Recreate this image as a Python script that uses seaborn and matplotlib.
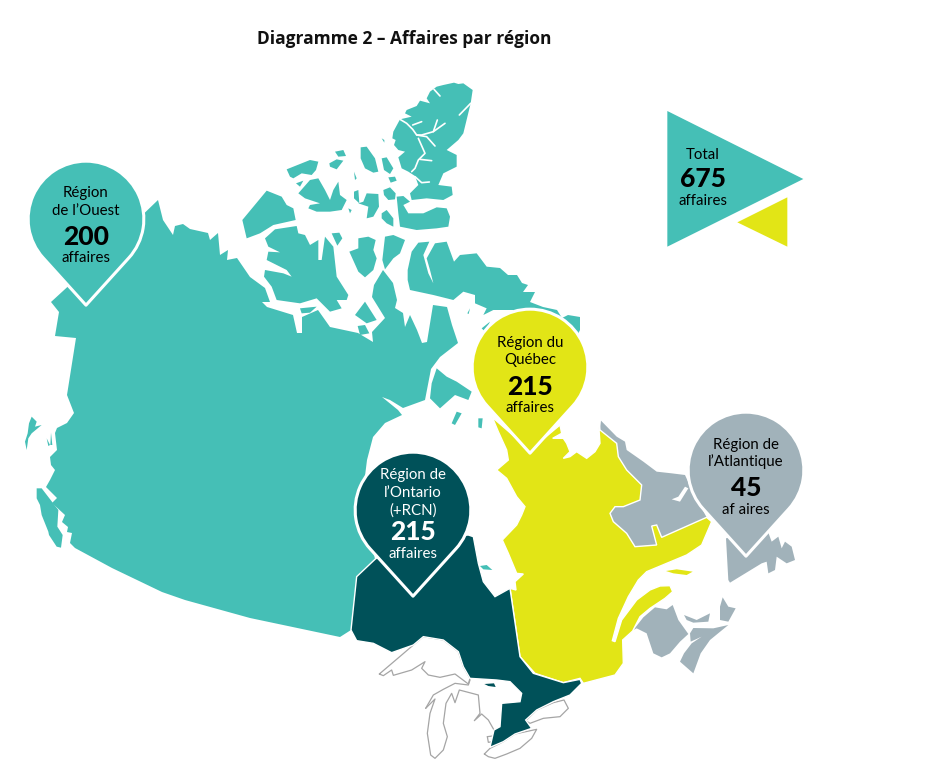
import numpy as np
import pandas as pd
import matplotlib
matplotlib.use("Agg")
import matplotlib.pyplot as plt
from matplotlib.path import Path
import seaborn as sns

# --- values ----------------------------------------------------------
regions = ["Ouest", "Québec", "Ontario", "Atlantique"]
counts = [200, 215, 215, 45]
total = 675
pin_labels = [["Région", "de l’Ouest"], ["Région du", "Québec"],
              ["Région de", "l’Ontario", "(+RCN)"], ["Région de", "l’Atlantique"]]
unit_labels = ["affaires", "affaires", "affaires", "af aires"]
title = "Diagramme 2 – Affaires par région"

TEAL, DARK, YELLOW, GREY = "#45BFB6", "#005159", "#E2E516", "#A1B2BA"
palette = dict(zip(regions, [TEAL, YELLOW, DARK, GREY]))
text_colors = ["black", "black", "white", "black"]

# pin anchors, pixels of the 938x781 canvas
pin_x = [86, 530, 413, 746]
pin_y = [219, 367, 510, 470]

# --- outlines (traced in pixels, some from 3x crops) -------------------
def z(pts, x0, y0):
    return [(x0 + a / 3, y0 + b / 3) for a, b in pts]

mainland_west = [(158, 200), (163, 220), (173, 235), (175, 226), (183, 224), (190, 229), (208, 233), (210, 240), (218, 233),
                 (220, 255), (228, 250), (227, 260), (237, 258), (250, 277), (265, 288), (270, 302), (262, 302),
                 (267, 307), (293, 315), (297, 333), (302, 333), (302, 317), (318, 310), (330, 327), (358, 333),
                 (373, 342), (372, 332), (385, 318), (372, 297), (374, 285), (383, 270), (393, 283), (397, 300),
                 (395, 308), (403, 313), (405, 327), (410, 315), (417, 330), (422, 343), (427, 342), (433, 305),
                 (447, 307), (452, 325), (458, 343), (440, 357),
                 (431, 369), (425, 400), (403, 408), (390, 400), (382, 397), (398, 410), (402, 415), (385, 423),
                 (373, 437), (367, 460), (362, 500), (375, 559), (357, 577), (351, 630), (340, 637), (250, 618),
                 (185, 600), (162, 592), (112, 568), (75, 548), (70, 543), (72, 533), (67, 532), (68, 527),
                 (62, 522), (65, 515), (52, 503), (57, 498), (46, 487), (50, 480), (55, 470), (51, 465), (50, 457),
                 (57, 450), (55, 433), (57, 428), (67, 423), (74, 413), (67, 395), (73, 357), (76, 338), (55, 336),
                 (59, 312), (51, 302), (75, 280)]

ontario = z([(105, 88), (180, 30), (385, 15), (400, 20), (415, 100), (430, 155), (465, 200), (510, 175),
             (540, 380), (580, 430), (670, 458), (720, 448), (725, 460), (690, 495), (640, 515), (590, 540),
             (557, 570), (575, 595), (525, 612), (490, 635), (450, 652), (462, 600), (480, 590), (485, 520),
             (540, 515), (545, 490), (510, 455), (470, 450), (390, 445), (370, 410), (355, 365), (310, 330),
             (250, 320), (220, 345), (155, 368), (100, 340), (50, 332), (33, 300), (50, 140)], 340, 530)
manitoulin = z([(433, 462), (462, 460), (467, 471), (445, 468)], 340, 530)

quebec = z([(37, 52), (150, 150), (240, 75), (245, 100), (218, 115), (250, 115), (260, 130), (270, 155), (250, 175),
            (270, 170), (290, 155), (320, 175), (345, 155), (360, 130), (355, 60), (360, 90), (410, 130), (415, 170),
            (440, 210), (485, 255), (480, 300), (430, 320), (405, 320), (390, 340), (400, 365), (440, 400), (465, 440),
            (530, 435), (515, 378), (530, 375), (545, 412), (680, 352), (695, 365), (665, 435), (620, 465), (500, 515),
            (475, 540), (445, 590), (415, 655), (397, 722), (405, 725), (425, 660), (440, 640), (470, 600), (510, 570),
            (540, 558), (570, 557), (578, 575), (555, 595), (510, 625), (480, 650), (458, 693), (428, 720), (430, 790),
            (405, 825), (310, 850), (300, 835), (250, 848), (165, 820), (120, 770), (90, 565), (108, 570), (105, 545),
            (130, 522), (110, 520), (85, 460), (67, 420), (110, 375), (125, 345), (135, 320), (110, 290), (80, 235),
            (50, 210), (85, 180), (80, 150), (55, 95)], 480, 400)
anticosti = z([(558, 513), (590, 508), (638, 515), (620, 525), (580, 520)], 480, 400)

labrador = z([(363, 62), (410, 110), (435, 125), (440, 150), (490, 185), (530, 215), (575, 220), (615, 225),
              (640, 280), (680, 352), (545, 412), (530, 375), (515, 378), (530, 435), (465, 440), (440, 400),
              (400, 365), (390, 340), (405, 320), (430, 320), (480, 300), (485, 255), (440, 210), (415, 170),
              (410, 130), (360, 90)], 480, 400)
inlet = z([(575, 298), (600, 305), (625, 265), (615, 260), (595, 290)], 480, 400)
newfoundland = z([(738, 415), (798, 400), (865, 398), (875, 425), (895, 410), (905, 445), (915, 425), (935, 440),
                  (945, 480), (920, 490), (890, 470), (885, 510), (865, 520), (860, 485), (845, 490), (750, 548),
                  (745, 540)], 480, 400)
new_brunswick = z([(460, 690), (490, 652), (525, 622), (560, 628), (578, 615), (595, 660), (625, 702), (600, 725),
                   (570, 760), (545, 772), (520, 760), (500, 700), (470, 685)], 480, 400)
nova_scotia = z([(600, 785), (640, 820), (662, 760), (690, 720), (745, 675), (700, 685), (640, 684), (630, 700),
                 (632, 725), (665, 710), (635, 730), (612, 760)], 480, 400)
cape_breton = z([(720, 620), (728, 592), (745, 620), (767, 625), (745, 665), (720, 660)], 480, 400)
pei = z([(612, 645), (650, 660), (690, 640), (685, 665), (640, 668), (620, 660)], 480, 400)

baffin = z([(533, 600), (545, 545), (565, 518), (598, 515), (580, 555), (595, 610), (610, 640), (600, 600),
            (590, 565), (615, 520), (650, 515), (672, 575), (690, 555), (740, 550), (770, 590)], 230, 70) + [
            (500, 268), (508, 275), (517, 275), (522, 283), (528, 285), (523, 292), (535, 292),
            (530, 302), (543, 307), (557, 310), (562, 318), (568, 315), (580, 317), (580, 330), (560, 370), (520, 330)] + z(
           [(850, 720), (790, 720), (760, 735), (770, 715), (735, 700), (735, 675), (700, 665), (670, 690), (610, 675),
            (540, 660), (533, 630)], 230, 70)

arctic = [z(p, 230, 70) for p in [
    [(728, 60), (700, 40), (685, 42), (672, 38), (640, 45), (620, 50), (600, 65), (590, 85), (600, 100), (570, 92),
     (560, 108), (530, 120), (525, 130), (545, 140), (510, 148), (490, 185), (487, 205), (497, 210), (492, 225),
     (505, 240), (525, 245), (505, 262), (515, 295), (535, 305), (555, 318), (565, 345), (540, 370),
     (545, 390), (590, 385), (640, 390), (668, 375), (665, 350), (625, 345), (640, 310), (680, 290), (680, 255),
     (650, 240), (685, 210), (700, 190), (722, 100)],
    [(500, 380), (520, 378), (540, 395), (520, 405), (535, 430), (580, 430), (620, 412), (650, 415), (660, 440),
     (655, 470), (620, 475), (560, 480), (510, 470), (505, 430)],
    [(460, 360), (480, 352), (497, 370), (495, 388), (475, 390), (462, 375)],
    [(455, 430), (470, 420), (490, 445), (490, 470), (470, 460), (455, 445)],
    [(385, 400), (400, 395), (410, 370), (445, 372), (447, 410), (430, 440), (410, 445), (415, 410)],
    [(372, 365), (385, 360), (388, 400), (372, 385)],
    [(455, 265), (470, 262), (490, 295), (480, 312), (462, 300)],
    [(475, 322), (495, 320), (500, 332), (482, 338)],
    [(392, 232), (410, 230), (435, 265), (445, 305), (430, 308), (405, 295), (392, 265)],
    [(455, 205), (463, 210), (463, 218)],
    [(170, 298), (240, 270), (265, 275), (258, 300), (245, 315), (215, 310), (190, 325), (180, 320)],
    [(205, 370), (240, 330), (265, 325), (285, 360), (300, 390), (310, 360), (325, 335), (330, 375), (350, 390),
     (335, 420), (300, 425), (260, 425), (235, 415), (240, 405), (270, 400), (225, 385)],
    [(198, 340), (220, 332), (210, 350)],
    [(315, 245), (340, 240), (348, 258), (325, 260)],
    [(298, 280), (320, 268), (340, 272), (320, 298), (300, 290)],
    [(372, 305), (380, 325), (375, 330)],
    [(355, 415), (365, 420), (360, 430)],
    [(37, 450), (110, 362), (155, 380), (170, 405), (190, 415), (197, 450), (130, 465), (90, 490), (50, 505)],
    [(105, 505), (135, 478), (200, 468), (205, 490), (225, 495), (240, 525), (265, 510), (265, 570), (275, 570),
     (285, 500), (310, 530), (320, 620), (355, 675), (350, 690), (320, 690), (335, 715), (300, 725), (260, 685),
     (210, 700), (140, 690), (125, 650), (102, 620), (105, 600), (160, 610), (185, 620), (170, 600), (110, 570),
     (115, 545), (150, 547), (115, 530)],
    [(305, 490), (328, 488), (337, 505), (322, 527)],
    [(358, 545), (385, 535), (385, 505), (415, 500), (437, 510), (430, 540), (440, 565), (430, 600), (405, 622),
     (385, 605)],
    [(465, 500), (490, 495), (525, 510), (510, 550), (490, 565), (465, 598), (457, 570)],
    [(375, 735), (405, 695), (440, 750), (410, 760)],
    [(383, 768), (405, 765), (418, 790), (390, 795)],
    [(755, 775), (780, 755), (765, 785)],
    [(712, 730), (720, 715), (716, 732)],
    [(210, 715), (260, 710), (240, 728), (215, 730)],
]]
bay_islands = [z(p, 340, 320) for p in [
    [(290, 145), (320, 170), (350, 185), (395, 215), (385, 240), (345, 225), (300, 265), (270, 235), (275, 190)],
    [(335, 310), (350, 275), (365, 280), (345, 315)],
    [(415, 295), (428, 295), (425, 325), (415, 322)],
    [(198, 143), (235, 155), (255, 175), (225, 165)],
    [(420, 738), (440, 735), (457, 750), (430, 748)],
]]
bc_islands = [z(p, 15, 400) for p in [
    [(65, 265), (80, 265), (130, 330), (127, 380), (143, 405), (138, 443), (125, 440), (102, 405), (100, 395),
     (80, 345), (75, 315), (65, 295)],
    [(50, 50), (65, 65), (60, 80), (80, 75), (50, 100), (40, 115), (35, 150), (30, 125), (38, 100), (42, 70)],
    [(95, 115), (105, 135), (100, 138)],
    [(108, 98), (112, 135), (106, 135)],
]]
fjords = [z(p, 230, 70) for p in [
    [(510, 148), (530, 160), (548, 178), (560, 195), (575, 195), (610, 185), (622, 150)],
    [(610, 185), (645, 160)],
    [(560, 195), (590, 200), (615, 228)],
    [(565, 205), (585, 250), (565, 270), (555, 295), (545, 305)],
    [(570, 268), (605, 272)],
    [(555, 320), (575, 338), (598, 336)],
    [(688, 135), (722, 100)],
    [(612, 58), (630, 78)],
    [(548, 165), (575, 155)],
]]

lakes = [z(p, 340, 530) for p in [
    [(118, 432), (185, 375), (220, 345), (250, 320), (310, 330), (355, 365), (370, 410), (390, 445), (385, 462),
     (345, 432), (300, 442), (265, 435), (245, 415), (255, 395), (215, 420), (160, 436), (155, 420), (130, 437), (118, 432)],
    [(257, 535), (285, 507), (270, 550), (262, 610), (272, 675), (285, 685), (310, 660), (322, 620), (310, 580),
     (318, 520), (335, 490), (345, 518), (358, 480), (415, 495), (420, 550), (403, 572), (425, 552), (445, 570), (462, 600)],
    [(257, 535), (280, 495), (310, 478), (345, 460), (385, 465), (390, 450)],
    [(433, 672), (450, 655), (490, 635), (525, 612), (590, 598), (575, 625), (540, 655), (500, 672), (465, 685),
     (445, 680), (433, 672)],
    [(557, 572), (590, 540), (640, 518), (672, 510), (685, 535), (660, 560), (610, 565), (570, 580), (557, 572)],
    [(442, 620), (458, 618), (458, 635), (445, 637), (442, 620)],
]]

total_tri = z([(82, 63), (490, 267), (82, 470)], 640, 90)
accent_tri = z([(442, 322), (442, 470), (292, 397)], 640, 90)

# --- pin marker: a circle running into a point ---------------------------
tip = 1.49
open_deg = np.degrees(np.arccos(1 / tip))
arc = Path.arc(-90 + open_deg, 270 - open_deg)
pin_path = Path(np.vstack([arc.vertices, [0, -tip], arc.vertices[0]]),
                list(arc.codes) + [Path.LINETO, Path.CLOSEPOLY])

# --- plot ------------------------------------------------------------
sns.set_theme(style="white")
plt.rcParams["font.family"] = ["Lato", "DejaVu Sans"]

fig = plt.figure(figsize=(9.38, 7.81), dpi=100)
ax = fig.add_axes([0, 0, 1, 1])

def land(pts, color, **kw):
    xs, ys = zip(*pts)
    ax.fill(xs, ys, color=color, lw=kw.pop("lw", 0), **kw)

for lake in lakes:
    ax.plot(*zip(*lake), color="#a5a5a5", lw=0.9, zorder=1)

land(mainland_west, TEAL, zorder=2)
for pts in arctic + bay_islands + bc_islands + [baffin]:
    land(pts, TEAL, zorder=2)
for line in fjords:
    ax.plot(*zip(*line), color="white", lw=1.2, zorder=3, solid_capstyle="round")

for pts in [labrador, newfoundland, new_brunswick, nova_scotia, cape_breton, pei]:
    land(pts, GREY, zorder=2)
land(inlet, "white", zorder=3)
land(quebec, YELLOW, zorder=3, ec="white", lw=1)
land(anticosti, YELLOW, zorder=3)
land(ontario, DARK, zorder=4, ec="white", lw=1)
land(manitoulin, DARK, zorder=4)

land(total_tri, TEAL, zorder=2)
land(accent_tri, YELLOW, zorder=2)

pins = pd.DataFrame({"region": regions, "x": pin_x, "y": pin_y})
sns.scatterplot(data=pins, x="x", y="y", hue="region", palette=palette, marker=pin_path,
                s=15400, linewidth=2.2, edgecolor="white", legend=False, zorder=6, ax=ax)

ax.set_xlim(0, 938)
ax.set_ylim(781, 0)
ax.axis("off")

ax.text(404, 39, title, ha="center", va="center", fontsize=12.5, fontweight="bold", color="#111111",
        family=["Open Sans", "DejaVu Sans"])

label_rows = [[193, 211], [343, 360], [475, 493, 511], [445, 462]]
number_rows = [237, 387, 532, 488]
unit_rows = [258, 408, 554, 510]
for i, reg in enumerate(regions):
    for line, y in zip(pin_labels[i], label_rows[i]):
        ax.text(pin_x[i], y, line, ha="center", va="center", fontsize=10.8, color=text_colors[i], zorder=7)
    ax.text(pin_x[i], number_rows[i], str(counts[i]), ha="center", va="center", fontsize=19, fontweight="black",
            color=text_colors[i], zorder=7)
    ax.text(pin_x[i], unit_rows[i], unit_labels[i], ha="center", va="center", fontsize=10.8,
            color=text_colors[i], zorder=7)

ax.text(703, 155, "Total", ha="center", va="center", fontsize=10.8, color="black", zorder=7)
ax.text(703, 179, str(total), ha="center", va="center", fontsize=19, fontweight="black", color="black", zorder=7)
ax.text(703, 201, "affaires", ha="center", va="center", fontsize=10.8, color="black", zorder=7)

fig.savefig("out.png", dpi=100)
